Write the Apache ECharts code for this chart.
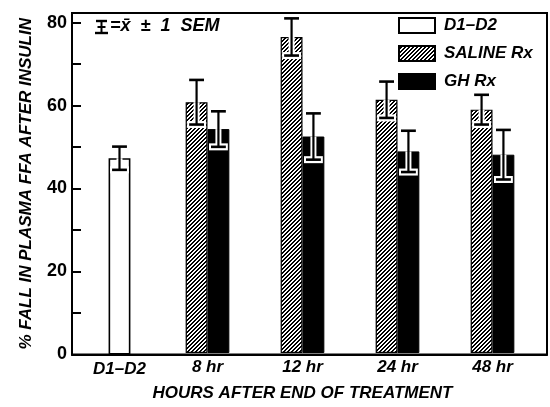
<!DOCTYPE html>
<html><head><meta charset="utf-8">
<script src="https://cdn.jsdelivr.net/npm/echarts@6/dist/echarts.min.js"></script>
<style>html,body{margin:0;padding:0;background:#fff}#c{width:550px;height:407px}</style>
</head><body><div id="c"></div>
<script>
const categories = ['D1–D2', '8 hr', '12 hr', '24 hr', '48 hr'];
const seriesNames = ['D1–D2', 'SALINE Rx', 'GH Rx'];
const d1d2Mean = [47.3, null, null, null, null];
const d1d2Sem = [2.8, null, null, null, null];
const salineMean = [null, 60.7, 76.5, 61.3, 58.9];
const salineSem = [null, 5.4, 4.5, 4.4, 3.6];
const ghMean = [null, 54.2, 52.4, 48.8, 48.0];
const ghSem = [null, 4.3, 5.6, 5.0, 6.0];
const yTickLabels = [0, 20, 40, 60, 80];
const yTitle = '% FALL IN PLASMA FFA AFTER INSULIN';
const xTitle = 'HOURS AFTER END OF TREATMENT';
const semNote = '=x̄  ±  1  SEM';

const FONT = '"Liberation Sans", Arial, sans-serif';
const BAR_FRAC = 0.23;

function hatch() {
  const n = 4;
  const c = document.createElement('canvas');
  c.width = n; c.height = n;
  const g = c.getContext('2d');
  g.fillStyle = '#fff'; g.fillRect(0, 0, n, n);
  g.fillStyle = '#000';
  for (let y = 0; y < n; y++) {
    for (let x = 0; x < n; x++) {
      const k = (x + y) % n;
      if (k === 2 || k === 3) g.fillRect(x, y, 1, 1);
    }
  }
  return c;
}

function errData(means, sems) {
  const out = [];
  means.forEach((m, i) => { if (m != null) out.push([i, m, sems[i]]); });
  return out;
}

function errItem(side) {
  return function (params, api) {
    const i = api.value(0), m = api.value(1), s = api.value(2);
    const band = api.size([1, 0])[0];
    const bw = band * BAR_FRAC;
    const x = api.coord([i, m])[0] + side * bw / 2;
    const yM = api.coord([i, m])[1];
    const yH = api.coord([i, m + s])[1];
    const yL = api.coord([i, m - s])[1];
    const cw = bw * 0.34;
    return {
      type: 'group',
      children: [
        { type: 'line', shape: { x1: x, y1: yM, x2: x, y2: yL }, style: { stroke: '#fff', lineWidth: 6 } },
        { type: 'line', shape: { x1: x - cw - 2, y1: yL, x2: x + cw + 2, y2: yL }, style: { stroke: '#fff', lineWidth: 7 } },
        { type: 'line', shape: { x1: x, y1: yH, x2: x, y2: yL }, style: { stroke: '#000', lineWidth: 2.2 } },
        { type: 'line', shape: { x1: x - cw, y1: yH, x2: x + cw, y2: yH }, style: { stroke: '#000', lineWidth: 2.6 } },
        { type: 'line', shape: { x1: x - cw, y1: yL, x2: x + cw, y2: yL }, style: { stroke: '#000', lineWidth: 2.6 } }
      ]
    };
  };
}

const txt = { fontFamily: FONT, fontWeight: 'bold', fontStyle: 'italic', color: '#000' };
const yMax = 82.3;

const chart = echarts.init(document.getElementById('c'), null, { renderer: 'canvas' });
chart.setOption({
  animation: false,
  backgroundColor: '#fff',
  grid: [
    { left: 72, right: 3, top: 13, bottom: 52.5, show: true, borderColor: '#000', borderWidth: 2 },
    { left: 65, right: 10, top: 13, bottom: 52.5 }
  ],
  legend: {
    orient: 'vertical', left: 398, top: 17, padding: 0,
    itemWidth: 36, itemHeight: 15, itemGap: 11, icon: 'rect',
    data: seriesNames,
    textStyle: Object.assign({ fontSize: 17, padding: [0, 0, 0, 4] }, txt)
  },
  xAxis: [
    {
      type: 'category', gridIndex: 0, data: categories,
      axisLine: { lineStyle: { color: '#000', width: 2 } },
      axisTick: { show: false },
      axisLabel: Object.assign({ fontSize: 17, margin: 6, formatter: (v, i) => i === 0 ? v : '' }, txt)
    },
    {
      type: 'category', gridIndex: 1, data: categories,
      axisLine: { show: false }, axisTick: { show: false },
      axisLabel: Object.assign({ fontSize: 17, margin: 6, formatter: (v, i) => i === 0 ? '' : v }, txt),
      name: xTitle, nameLocation: 'middle', nameGap: 32,
      nameTextStyle: Object.assign({ fontSize: 17 }, txt)
    }
  ],
  yAxis: [
    {
      type: 'value', gridIndex: 0, min: 0, max: yMax, interval: 10,
      axisLine: { show: true, lineStyle: { color: '#000', width: 2 } },
      axisTick: { show: true, inside: true, length: 9, lineStyle: { color: '#000', width: 2 } },
      splitLine: { show: false },
      axisLabel: {
        fontFamily: FONT, fontWeight: 'bold', fontSize: 18, color: '#000', margin: 5,
        formatter: v => yTickLabels.indexOf(v) >= 0 ? String(v) : ''
      },
      name: yTitle, nameLocation: 'middle', nameRotate: 90, nameGap: 37,
      nameTextStyle: Object.assign({ fontSize: 17 }, txt)
    },
    { type: 'value', gridIndex: 1, min: 0, max: yMax, interval: 10, show: false }
  ],
  series: [
    {
      name: seriesNames[0], type: 'bar', xAxisIndex: 0, yAxisIndex: 0,
      barWidth: (BAR_FRAC * 100) + '%', data: d1d2Mean,
      itemStyle: { color: '#fff', borderColor: '#000', borderWidth: 1.6 }
    },
    {
      name: seriesNames[1], type: 'bar', xAxisIndex: 1, yAxisIndex: 1,
      barWidth: (BAR_FRAC * 100) + '%', barGap: '0%', data: salineMean,
      itemStyle: { color: { image: hatch(), repeat: 'repeat' }, borderColor: '#000', borderWidth: 1.2 }
    },
    {
      name: seriesNames[2], type: 'bar', xAxisIndex: 1, yAxisIndex: 1,
      barWidth: (BAR_FRAC * 100) + '%', barGap: '0%', data: ghMean,
      itemStyle: { color: '#000', borderColor: '#000', borderWidth: 1 }
    },
    { type: 'custom', xAxisIndex: 0, yAxisIndex: 0, z: 5, clip: false, renderItem: errItem(0), encode: { x: 0, y: 1 }, data: errData(d1d2Mean, d1d2Sem) },
    { type: 'custom', xAxisIndex: 1, yAxisIndex: 1, z: 5, clip: false, renderItem: errItem(-1), encode: { x: 0, y: 1 }, data: errData(salineMean, salineSem) },
    { type: 'custom', xAxisIndex: 1, yAxisIndex: 1, z: 5, clip: false, renderItem: errItem(1), encode: { x: 0, y: 1 }, data: errData(ghMean, ghSem) }
  ],
  graphic: [
    { type: 'line', shape: { x1: 101.5, y1: 21, x2: 101.5, y2: 33 }, style: { stroke: '#000', lineWidth: 2 } },
    { type: 'line', shape: { x1: 96, y1: 21, x2: 107, y2: 21 }, style: { stroke: '#000', lineWidth: 2.4 } },
    { type: 'line', shape: { x1: 97.5, y1: 27, x2: 105.5, y2: 27 }, style: { stroke: '#000', lineWidth: 2 } },
    { type: 'line', shape: { x1: 95, y1: 33, x2: 108, y2: 33 }, style: { stroke: '#000', lineWidth: 2.4 } },
    {
      type: 'text', left: 110, top: 17,
      style: { text: semNote, font: 'italic bold 18px ' + FONT, fill: '#000' }
    }
  ]
});
</script></body></html>
